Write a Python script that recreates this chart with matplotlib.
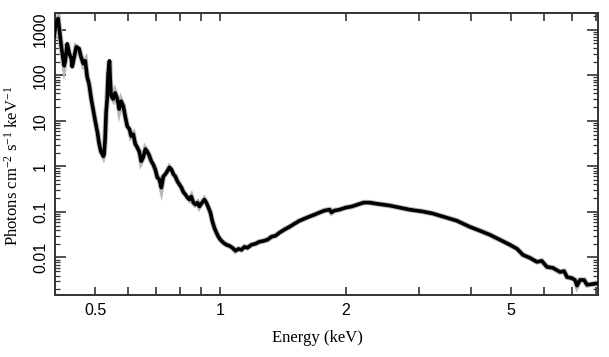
import numpy as np
import matplotlib
matplotlib.use('Agg')
import matplotlib.pyplot as plt
from matplotlib.ticker import FixedLocator, NullFormatter, FixedFormatter, LogLocator

plt.rcParams['mathtext.fontset'] = 'custom'
plt.rcParams['mathtext.rm'] = 'Liberation Serif'
plt.rcParams['mathtext.it'] = 'Liberation Serif:italic'

# spectrum (energy in keV, flux in photons cm^-2 s^-1 keV^-1)
energy = [
    0.398, 0.402, 0.407, 0.409, 0.414, 0.419, 0.421, 0.423, 0.428, 0.433,
    0.438, 0.440, 0.445, 0.450, 0.457, 0.462, 0.468, 0.473, 0.478, 0.483,
    0.489, 0.494, 0.500, 0.506, 0.511, 0.516, 0.523, 0.525, 0.528, 0.531,
    0.534, 0.537, 0.541, 0.543, 0.546, 0.552, 0.558, 0.565, 0.571, 0.577,
    0.584, 0.590, 0.597, 0.604, 0.610, 0.617, 0.624, 0.631, 0.638, 0.645,
    0.652, 0.660, 0.667, 0.674, 0.682, 0.689, 0.697, 0.705, 0.713, 0.721,
    0.729, 0.737, 0.745, 0.754, 0.762, 0.771, 0.779, 0.788, 0.797, 0.806,
    0.815, 0.824, 0.833, 0.842, 0.851, 0.861, 0.870, 0.881, 0.890, 0.900,
    0.915, 0.925, 0.936, 0.946, 0.957, 0.967, 0.978, 0.989, 1.000, 1.017,
    1.034, 1.051, 1.069, 1.087, 1.105, 1.124, 1.143, 1.161, 1.188, 1.214,
    1.241, 1.269, 1.298, 1.327, 1.357, 1.387, 1.426, 1.466, 1.507, 1.550,
    1.593, 1.638, 1.684, 1.732, 1.780, 1.832, 1.850, 1.882, 1.934, 2.000,
    2.068, 2.138, 2.211, 2.286, 2.364, 2.457, 2.552, 2.700, 2.853, 3.067,
    3.243, 3.428, 3.705, 3.982, 4.207, 4.447, 4.700, 4.970, 5.170, 5.343,
    5.553, 5.772, 5.930, 6.103, 6.310, 6.561, 6.710, 6.823, 7.015, 7.127,
    7.210, 7.328, 7.499, 7.621, 7.834, 8.100,
]
flux = [
    705, 1364, 1758, 1170, 446, 208, 161, 198, 493, 297,
    230, 153, 255, 420, 383, 255, 179, 208, 92, 65,
    30, 18, 9.8, 5.6, 3.1, 2.1, 1.66, 1.84, 3.9, 15.5,
    30, 107, 208, 83, 35, 30, 41, 30, 18, 27,
    21, 12.7, 7.6, 6.6, 4.6, 5.1, 3.1, 2.6, 2.1, 1.29,
    1.58, 2.4, 2.1, 1.75, 1.29, 1.11, 0.86, 0.57, 0.52, 0.34,
    0.60, 0.67, 0.78, 0.95, 0.86, 0.67, 0.60, 0.47, 0.40, 0.34,
    0.27, 0.24, 0.207, 0.187, 0.218, 0.16, 0.145, 0.16, 0.131, 0.152,
    0.187, 0.16, 0.124, 0.097, 0.061, 0.045, 0.035, 0.0285, 0.0245, 0.021,
    0.019, 0.018, 0.0163, 0.014, 0.0154, 0.0147, 0.0171, 0.0163, 0.019, 0.020,
    0.0221, 0.023, 0.0245, 0.0285, 0.030, 0.035, 0.041, 0.047, 0.055, 0.064,
    0.071, 0.079, 0.087, 0.097, 0.107, 0.112, 0.097, 0.107, 0.112, 0.124,
    0.131, 0.145, 0.160, 0.160, 0.152, 0.145, 0.138, 0.124, 0.112, 0.102,
    0.092, 0.079, 0.064, 0.047, 0.0387, 0.0315, 0.0245, 0.019, 0.0155, 0.0114,
    0.0098, 0.0080, 0.0084, 0.0062, 0.0059, 0.0048, 0.0050, 0.0037, 0.0035, 0.0032,
    0.0024, 0.0032, 0.0032, 0.0025, 0.0026, 0.0027,
]

x_major = [0.5, 1, 2, 5]
x_minor = [0.6, 0.7, 0.8, 0.9, 3, 4, 6, 7, 8]
y_major = [0.01, 0.1, 1, 10, 100, 1000]
y_labels = ['0.01', '0.1', '1', '10', '100', '1000']

fig = plt.figure(figsize=(6.09, 3.57), dpi=100)
ax = fig.add_axes([0.0903, 0.1737, 0.8917, 0.7893])

# grey halo standing in for the error bars, then the data
ax.plot(energy, flux, color='#b8b8b8', lw=4.0, zorder=2, solid_joinstyle='miter')
ax.plot(energy, flux, color='black', lw=2.6, zorder=3)

ax.set_xscale('log')
ax.set_yscale('log')
ax.set_xlim(0.4, 8.1)
ax.set_ylim(1.5e-3, 2300)

ax.xaxis.set_major_locator(FixedLocator(x_major))
ax.xaxis.set_major_formatter(FixedFormatter([str(v) for v in x_major]))
ax.xaxis.set_minor_locator(FixedLocator(x_minor))
ax.xaxis.set_minor_formatter(NullFormatter())
ax.yaxis.set_major_locator(FixedLocator(y_major))
ax.yaxis.set_major_formatter(FixedFormatter(y_labels))
ax.yaxis.set_minor_locator(LogLocator(base=10, subs=np.arange(2, 10), numticks=100))
ax.yaxis.set_minor_formatter(NullFormatter())

ax.tick_params(which='both', direction='in', top=True, right=True,
               color='#333333', width=1.2)
ax.tick_params(axis='x', which='major', length=6, pad=6)
ax.tick_params(axis='x', which='minor', length=6)
ax.tick_params(axis='y', which='major', length=8, pad=5)
ax.tick_params(axis='y', which='minor', length=3.5, width=0.9)
for lab in ax.get_xticklabels():
    lab.set_fontfamily('Liberation Sans')
    lab.set_fontsize(11.5)
for lab in ax.get_yticklabels():
    lab.set_fontfamily('Liberation Sans')
    lab.set_fontsize(11.5)
    lab.set_rotation(90)
    lab.set_va('center')

for sp in ax.spines.values():
    sp.set_linewidth(1.4)
    sp.set_color('#333333')

ax.set_xlabel('Energy (keV)', family='Liberation Serif', fontsize=12)
ax.set_ylabel('Photons cm$^{-2}$ s$^{-1}$ keV$^{-1}$', family='Liberation Serif',
              fontsize=12)
ax.xaxis.set_label_coords(0.484, -0.123)
ax.yaxis.set_label_coords(-0.061, 0.457)

fig.savefig('out.png', dpi=100)
